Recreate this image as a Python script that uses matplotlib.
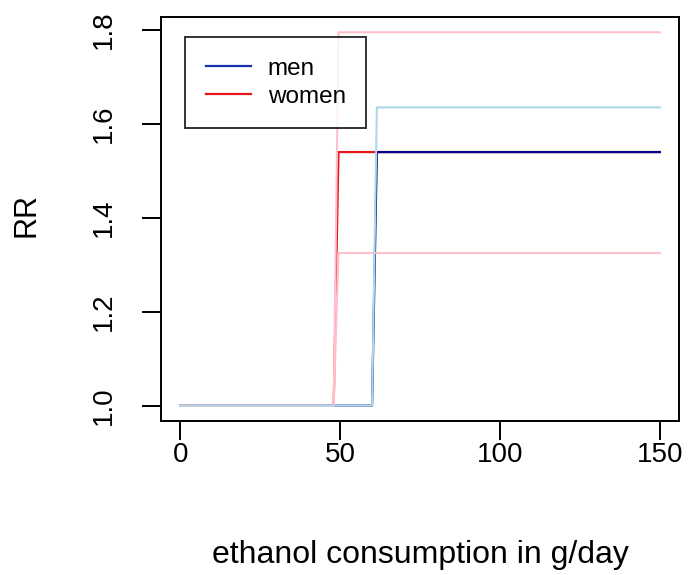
import matplotlib
matplotlib.use('Agg')
import matplotlib.pyplot as plt

# grid points around the thresholds
x_women = [0, 48, 49.5, 150]
rr_women = [1.0, 1.0, 1.54, 1.54]
lo_women = [1.0, 1.0, 1.325, 1.325]
hi_women = [1.0, 1.0, 1.795, 1.795]

x_men = [0, 60, 61.5, 150]
rr_men = [1.0, 1.0, 1.54, 1.54]
hi_men = [1.0, 1.0, 1.635, 1.635]

xticks = [0, 50, 100, 150]
yticks = [1.0, 1.2, 1.4, 1.6, 1.8]

plt.rcParams['font.family'] = ['Liberation Sans', 'DejaVu Sans']
fig = plt.figure(figsize=(6.89, 5.75), dpi=100, facecolor='white')
ax = fig.add_axes([0.2337, 0.2683, 0.7518, 0.7017])

ax.plot(x_women, rr_women, color='#e8161b', lw=1.6)
ax.plot(x_men, rr_men, color='#00008b', lw=1.6)
ax.plot(x_women, lo_women, color='#ffc0cb', lw=1.5)
ax.plot(x_women, hi_women, color='#ffc0cb', lw=1.5)
ax.plot(x_men, hi_men, color='#add8e6', lw=1.5)

ax.set_xlim(-6, 156)
ax.set_ylim(0.968, 1.827)
ax.set_xticks(xticks)
ax.set_xticklabels([str(v) for v in xticks])
ax.set_yticks(yticks)
ax.set_yticklabels(['%.1f' % v for v in yticks], rotation=90, va='center')
ax.tick_params(length=13.5, width=1.4, labelsize=20, direction='out')
ax.tick_params(axis='x', pad=2)
ax.tick_params(axis='y', pad=18)
for s in ax.spines.values():
    s.set_linewidth(1.4)

ax.set_xlabel('ethanol consumption in g/day', fontsize=23, va='center')
ax.xaxis.set_label_coords(0.5, -0.333)
ax.set_ylabel('RR', fontsize=22, va='center')
ax.yaxis.set_label_coords(-0.259, 0.51)

leg = ax.legend(['men', 'women'], loc='upper left', bbox_to_anchor=(0.0463, 0.951),
                fontsize=17.5, frameon=True, fancybox=False, edgecolor='black',
                handlelength=1.85, handletextpad=0.7, borderpad=0.85, labelspacing=0.24,
                borderaxespad=0)
leg.get_frame().set_linewidth(1.4)
leg.legend_handles[0].set_color('#1a2fb0')
leg.legend_handles[1].set_color('#e8161b')

plt.savefig('out.png', dpi=100, facecolor='white')
